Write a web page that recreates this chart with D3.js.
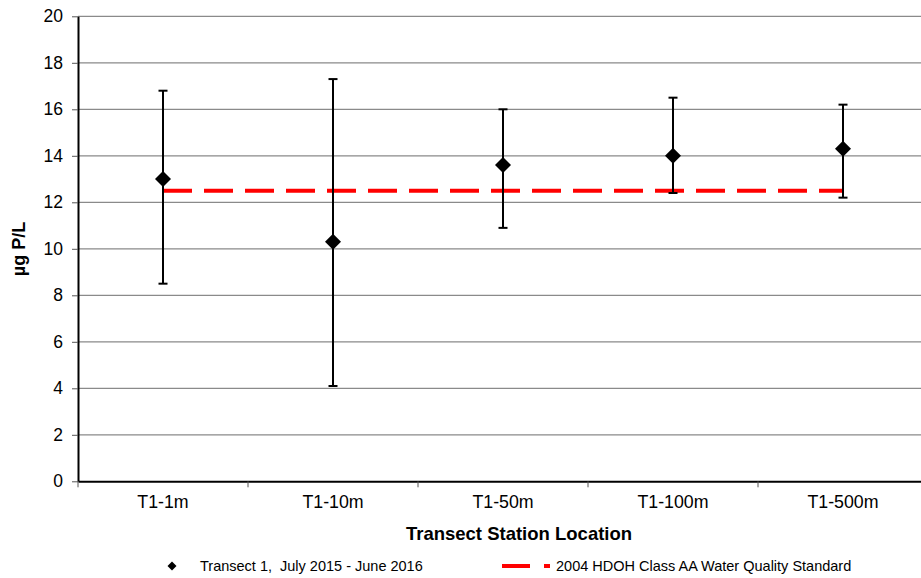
<!DOCTYPE html>
<html>
<head>
<meta charset="utf-8">
<script src="https://cdn.jsdelivr.net/npm/d3@7"></script>
<style>
  html, body { margin: 0; padding: 0; background: #fff; }
  svg { display: block; font-family: Arial, "Liberation Sans", sans-serif; }
</style>
</head>
<body>
<svg id="chart" width="921" height="578"></svg>
<script>
const categories = ["T1-1m", "T1-10m", "T1-50m", "T1-100m", "T1-500m"];
const means = [13.0, 10.3, 13.6, 14.0, 14.3];
const upper = [16.8, 17.3, 16.0, 16.5, 16.2];
const lower = [8.5, 4.1, 10.9, 12.4, 12.2];
const standardValue = 12.5;
const yTicks = [0, 2, 4, 6, 8, 10, 12, 14, 16, 18, 20];
const seriesName = "Transect 1,  July 2015 - June 2016";
const standardName = "2004 HDOH Class AA Water Quality Standard";
const xTitle = "Transect Station Location";
const yTitle = "µg P/L";

(function () {
const svg = d3.select("#chart");
const pL = 78, pR = 928, pT = 16.3, pB = 481.3;

const x = d3.scaleBand().domain(categories).range([pL, pR]).paddingInner(0).paddingOuter(0);
const y = d3.scaleLinear().domain([0, 20]).range([pB, pT]);

// gridlines
svg.append("g").selectAll("line").data(yTicks.filter(d => d > 0)).join("line")
  .attr("x1", pL).attr("x2", pR)
  .attr("y1", d => y(d)).attr("y2", d => y(d))
  .attr("stroke", "#8a8a8a").attr("stroke-width", 1.2);

// y axis
const yAxis = d3.axisLeft(y).tickValues(yTicks).tickSize(6).tickSizeOuter(0).tickPadding(9);
const gy = svg.append("g").attr("transform", `translate(${pL},0)`).call(yAxis);
gy.select(".domain").attr("stroke", "#000").attr("stroke-width", 2);
gy.selectAll(".tick line").attr("stroke", "#555").attr("stroke-width", 1);
gy.selectAll(".tick text").attr("font-size", 17.5).attr("fill", "#000")
  .attr("font-family", "Arial, 'Liberation Sans', sans-serif");

// x axis
const xAxis = d3.axisBottom(x).tickSize(0).tickPadding(14);
const gx = svg.append("g").attr("transform", `translate(0,${pB})`).call(xAxis);
gx.select(".domain").attr("stroke", "#000").attr("stroke-width", 2);
gx.selectAll(".tick text").attr("font-size", 17.8).attr("fill", "#000")
  .attr("font-family", "Arial, 'Liberation Sans', sans-serif");
svg.append("g").selectAll("line").data(categories).join("line")
  .attr("x1", d => x(d)).attr("x2", d => x(d))
  .attr("y1", pB).attr("y2", pB + 6)
  .attr("stroke", "#555").attr("stroke-width", 1);

const cx = d => x(d) + x.bandwidth() / 2;

// standard line
svg.append("line")
  .attr("x1", cx(categories[0])).attr("x2", cx(categories[categories.length - 1]))
  .attr("y1", y(standardValue)).attr("y2", y(standardValue))
  .attr("stroke", "#ff0000").attr("stroke-width", 4)
  .attr("stroke-dasharray", "29,12");

// error bars
const eb = svg.append("g");
categories.forEach((c, i) => {
  const xc = cx(c);
  eb.append("line").attr("x1", xc).attr("x2", xc).attr("y1", y(upper[i])).attr("y2", y(lower[i]))
    .attr("stroke", "#000").attr("stroke-width", 2);
  [upper[i], lower[i]].forEach(v => {
    eb.append("line").attr("x1", xc - 4.5).attr("x2", xc + 4.5).attr("y1", y(v)).attr("y2", y(v))
      .attr("stroke", "#000").attr("stroke-width", 2);
  });
});

// diamonds
const diamond = (s) => `M0,${-s}L${s},0L0,${s}L${-s},0Z`;
svg.append("g").selectAll("path").data(categories).join("path")
  .attr("d", diamond(8))
  .attr("transform", (d, i) => `translate(${cx(d)},${y(means[i])})`)
  .attr("fill", "#000");

// titles
svg.append("text").attr("x", 519).attr("y", 540).attr("text-anchor", "middle")
  .attr("font-size", 18.5).attr("font-weight", "bold").text(xTitle);
svg.append("text").attr("transform", "translate(25,249) rotate(-90)").attr("text-anchor", "middle")
  .attr("font-size", 18).attr("font-weight", "bold").text(yTitle);

// legend
svg.append("path").attr("d", diamond(4.5)).attr("transform", "translate(172,566)").attr("fill", "#000");
svg.append("text").attr("x", 200).attr("y", 571).attr("font-size", 14.5)
  .style("white-space", "pre").text(seriesName);
svg.append("line").attr("x1", 502).attr("x2", 530).attr("y1", 566).attr("y2", 566)
  .attr("stroke", "#ff0000").attr("stroke-width", 4);
svg.append("line").attr("x1", 544).attr("x2", 550).attr("y1", 566).attr("y2", 566)
  .attr("stroke", "#ff0000").attr("stroke-width", 4);
svg.append("text").attr("x", 556).attr("y", 571).attr("font-size", 14.5).text(standardName);
})();
</script>
</body>
</html>
